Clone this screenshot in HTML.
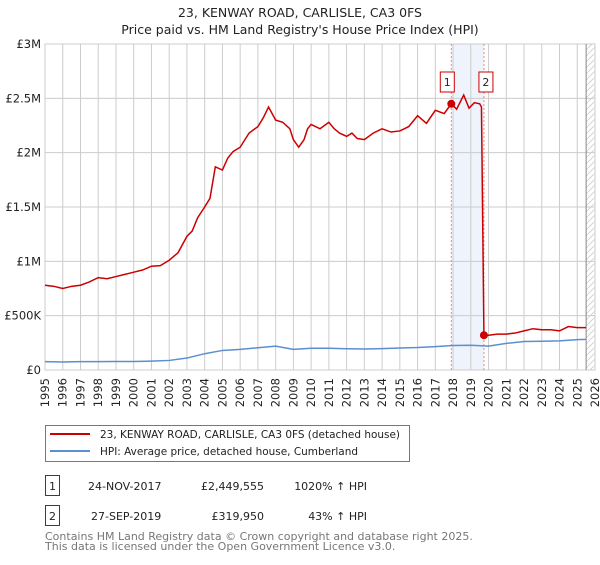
<!DOCTYPE html>
<html><head><meta charset="utf-8">
<style>
body{margin:0;background:#fff;font-family:"Liberation Sans","DejaVu Sans",sans-serif;}
svg text{font-family:"DejaVu Sans","Liberation Sans",sans-serif;}
</style></head>
<body>
<svg id="c" width="600" height="560" xmlns="http://www.w3.org/2000/svg">
<text x="300" y="17" text-anchor="middle" font-size="12.5" fill="#222">23, KENWAY ROAD, CARLISLE, CA3 0FS</text>
<text x="300" y="34" text-anchor="middle" font-size="12.5" fill="#222">Price paid vs. HM Land Registry's House Price Index (HPI)</text>
<g id="grid"></g><g id="marks"></g><g id="axes"></g>
<g>
<rect x="45.5" y="425.5" width="364" height="36" fill="#fff" stroke="#777"/>
<line x1="50" y1="434" x2="90" y2="434" stroke="#cc0000" stroke-width="2"/>
<text x="100" y="438" font-size="10.6" textLength="300" lengthAdjust="spacingAndGlyphs" fill="#222">23, KENWAY ROAD, CARLISLE, CA3 0FS (detached house)</text>
<line x1="50" y1="451" x2="90" y2="451" stroke="#5b8fd0" stroke-width="2"/>
<text x="100" y="455" font-size="10.6" textLength="258" lengthAdjust="spacingAndGlyphs" fill="#222">HPI: Average price, detached house, Cumberland</text>
</g>
<g>
<rect x="45.5" y="475.5" width="14" height="20" fill="#fff" stroke="#cc0000"/>
<text x="52.5" y="490" text-anchor="middle" font-size="11" fill="#222">1</text>
<text x="88" y="490" font-size="11" fill="#222">24-NOV-2017</text>
<text x="264" y="490" text-anchor="end" font-size="11" fill="#222">£2,449,555</text>
<text x="367" y="490" text-anchor="end" font-size="11" fill="#222">1020% ↑ HPI</text>
</g>
<g>
<rect x="45.5" y="505.5" width="14" height="20" fill="#fff" stroke="#cc0000"/>
<text x="52.5" y="520" text-anchor="middle" font-size="11" fill="#222">2</text>
<text x="91" y="520" font-size="11" fill="#222">27-SEP-2019</text>
<text x="264" y="520" text-anchor="end" font-size="11" fill="#222">£319,950</text>
<text x="367" y="520" text-anchor="end" font-size="11" fill="#222">43% ↑ HPI</text>
</g>
<text x="45" y="540" font-size="11" fill="#777">Contains HM Land Registry data © Crown copyright and database right 2025.</text>
<text x="45" y="550" font-size="11" fill="#777">This data is licensed under the Open Government Licence v3.0.</text>
</svg>
<script>
const yTicks=[0,500000,1000000,1500000,2000000,2500000,3000000];
const yTickLabels=["£0","£500K","£1M","£1.5M","£2M","£2.5M","£3M"];
const xYears=[1995,1996,1997,1998,1999,2000,2001,2002,2003,2004,2005,2006,2007,2008,2009,2010,2011,2012,2013,2014,2015,2016,2017,2018,2019,2020,2021,2022,2023,2024,2025,2026];
const redT=[1995,1995.5,1996,1996.5,1997,1997.5,1998,1998.5,1999,1999.5,2000,2000.5,2001,2001.5,2002,2002.5,2003,2003.3,2003.6,2004,2004.3,2004.6,2005,2005.3,2005.6,2006,2006.5,2007,2007.3,2007.6,2008,2008.4,2008.8,2009,2009.3,2009.6,2009.8,2010,2010.5,2011,2011.3,2011.6,2012,2012.3,2012.6,2013,2013.5,2014,2014.5,2015,2015.5,2016,2016.5,2017,2017.5,2017.9,2018.2,2018.6,2018.9,2019.2,2019.5,2019.6,2019.74,2020,2020.5,2021,2021.5,2022,2022.5,2023,2023.5,2024,2024.5,2025,2025.5];
const redV=[0.78,0.77,0.75,0.77,0.78,0.81,0.85,0.84,0.86,0.88,0.90,0.92,0.955,0.96,1.01,1.08,1.23,1.28,1.40,1.50,1.58,1.87,1.84,1.95,2.01,2.05,2.18,2.24,2.32,2.42,2.30,2.28,2.22,2.12,2.05,2.12,2.22,2.26,2.22,2.28,2.22,2.18,2.15,2.18,2.13,2.12,2.18,2.22,2.19,2.2,2.24,2.34,2.27,2.39,2.36,2.45,2.40,2.53,2.41,2.46,2.45,2.42,0.32,0.32,0.33,0.33,0.34,0.36,0.38,0.37,0.37,0.36,0.40,0.39,0.39];
const hpiT=[1995,1996,1997,1998,1999,2000,2001,2002,2003,2004,2005,2006,2007,2008,2009,2010,2011,2012,2013,2014,2015,2016,2017,2018,2019,2020,2021,2022,2023,2024,2025,2025.5];
const hpiV=[0.077,0.074,0.077,0.077,0.078,0.078,0.082,0.088,0.11,0.15,0.18,0.19,0.205,0.22,0.19,0.2,0.2,0.195,0.193,0.197,0.203,0.207,0.215,0.225,0.228,0.22,0.245,0.262,0.265,0.268,0.28,0.282];
const sales=[[2017.9,2.4496],[2019.74,0.31995]];
const L=45,R=595,T=44,B=370,Y0=1995,Y1=2026;
const xs=t=>L+(t-Y0)/(Y1-Y0)*(R-L);
const ys=v=>B-v/3000000*(B-T);
const ysM=v=>ys(v*1e6);
const NS="http://www.w3.org/2000/svg";
function mk(p,tag,a){const e=document.createElementNS(NS,tag);for(const k in a)e.setAttribute(k,a[k]);p.appendChild(e);return e;}
const g=document.getElementById('grid'),m=document.getElementById('marks'),ax=document.getElementById('axes');
const sh=mk(g,'rect',{x:xs(sales[0][0]),y:T,width:xs(sales[1][0])-xs(sales[0][0]),height:B-T,fill:'#eef3fc'});


const hd=mk(g,'defs',{});
const pat=mk(hd,'pattern',{id:'h',width:6,height:6,patternUnits:'userSpaceOnUse'});
mk(pat,'path',{d:'M0,6 L6,0',stroke:'#ccc','stroke-width':0.8});
const fut=mk(g,'rect',{x:xs(2025.5),y:T,width:R-xs(2025.5),height:B-T,fill:'url(#h)'});


xYears.forEach(y=>{const l=mk(g,'line',{x1:xs(y),x2:xs(y),y1:T,y2:B,stroke:'#ccc'});


const tx=mk(ax,'text',{x:0,y:0,'font-size':11.5,fill:'#222','text-anchor':'end',transform:`translate(${xs(y)+4},${B+8}) rotate(-90)`});tx.textContent=y;

});
yTicks.forEach((v,i)=>{const l=mk(g,'line',{x1:L,x2:R,y1:ys(v),y2:ys(v),stroke:'#ccc'});


const tx=mk(ax,'text',{x:L-4,y:ys(v)+4,'font-size':11.5,fill:'#222','text-anchor':'end'});tx.textContent=yTickLabels[i];

});
mk(g,'rect',{x:L,y:T,width:R-L,height:B-T,fill:'none',stroke:'#ccc'});
mk(g,'line',{x1:xs(2025.5),x2:xs(2025.5),y1:T,y2:B,stroke:'#888'});
sales.forEach(s=>{const l=mk(g,'line',{x1:xs(s[0]),x2:xs(s[0]),y1:T,y2:B,stroke:'#e88','stroke-dasharray':'2,2'});

});
const hp=mk(m,'polyline',{points:hpiT.map((t,i)=>xs(t)+','+ysM(hpiV[i])).join(' '),fill:'none',stroke:'#5b8fd0','stroke-width':1.5});


const rp=mk(m,'polyline',{points:redT.map((t,i)=>xs(t)+','+ysM(redV[i])).join(' '),fill:'none',stroke:'#cc0000','stroke-width':1.5});


sales.forEach((s,i)=>{const c=mk(m,'circle',{cx:xs(s[0]),cy:ysM(s[1]),r:4,fill:'#cc0000'});


const bx=xs(s[0])-(i==0?4:-2)-7;
const r=mk(m,'rect',{x:bx,y:72,width:14,height:20,fill:'#fff',stroke:'#cc0000'});


const t=mk(m,'text',{x:bx+7,y:86,'font-size':11,'text-anchor':'middle',fill:'#222'});t.textContent=i+1;

});
</script>
</body></html>
